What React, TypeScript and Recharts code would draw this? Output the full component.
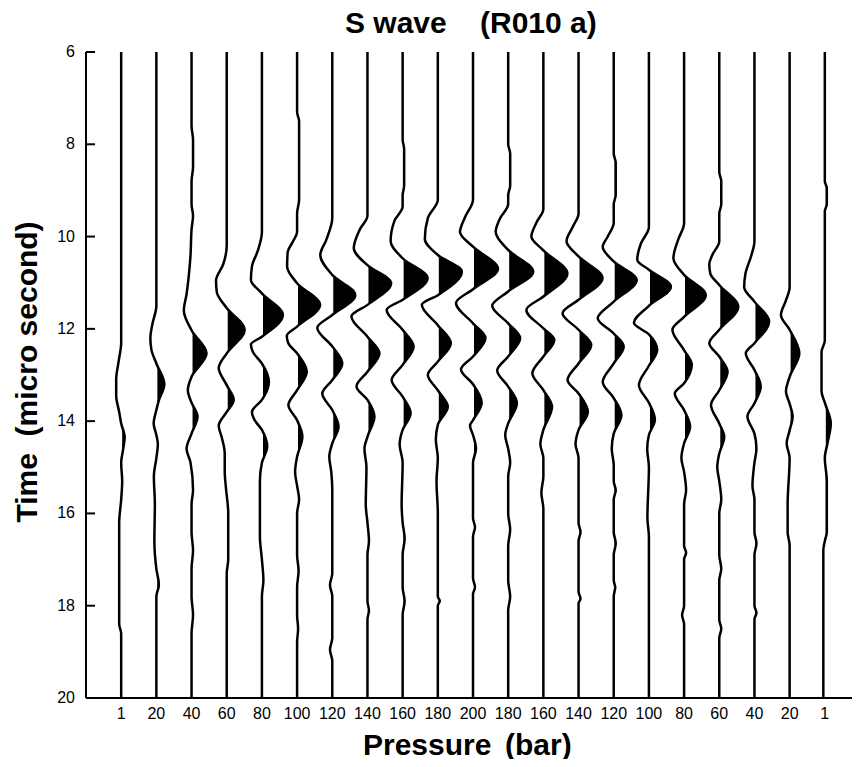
import React from 'react';
import { ComposedChart, Line, Area, XAxis, YAxis, ReferenceArea } from 'recharts';

type Pt = [number, number];

// pressure of each trace, loading then unloading
const pressures = [1, 20, 40, 60, 80, 100, 120, 140, 160, 180, 200, 180, 160, 140, 120, 100, 80, 60, 40, 20, 1];
const timeTicks = [6, 8, 10, 12, 14, 16, 18, 20];

// [time (micro second), amplitude]
const w00: Pt[] = [[6, 0], [12.3, 0], [12.7, -2.5], [13.1, -5], [13.45, -5], [13.8, -2], [14.05, 0], [14.35, 3.5], [14.6, 2], [14.9, 0], [15.3, 1], [15.7, 0], [16.2, -2], [18.4, -2], [18.6, 0], [20, 0]];
const w01: Pt[] = [[6, 0], [11.5, 0], [11.9, -4], [12.2, -6], [12.45, -5], [12.75, 0], [13.2, 8], [13.55, 2.5], [13.76, 0], [14.05, -2.7], [14.3, 0], [14.5, 1.5], [14.8, 0], [15.2, -2.5], [15.8, -1.5], [16.6, -2], [17.2, 0], [17.55, 2.5], [17.8, 0], [20, 0]];
const w02: Pt[] = [[6, 0], [7.6, 0], [7.9, 1.5], [8.5, 1.5], [8.8, 0], [9.3, 0], [9.55, 1.5], [9.85, 0], [10.4, -1], [10.9, -3], [11.25, -5], [11.6, -7.7], [12.03, 0], [12.53, 15], [13.04, 0], [13.33, -3.7], [13.6, 0], [13.9, 6], [14.27, 0], [14.6, -5], [14.9, -1], [15.5, 1.5], [15.8, 0], [16.4, 0], [16.8, 1.5], [17.2, 0], [17.8, 0], [18.2, 1.5], [18.6, 0], [20, 0]];
const w03: Pt[] = [[6, 0], [10.2, 0], [10.6, -3.5], [10.95, -10.7], [11.2, -10], [11.55, 0], [12.02, 18], [12.53, 0], [12.85, -8], [13.22, 0], [13.54, 7], [13.8, 0], [14.1, -8], [14.35, -5], [14.7, -2], [15.1, -2], [15.4, -1], [16.0, 1.5], [17.0, 1.5], [17.3, 0], [20, 0]];
const w04: Pt[] = [[6, 0], [9.9, 0], [10.3, -4], [10.65, -10], [10.94, -11], [11.23, 0], [11.7, 21], [12.17, 0], [12.34, -11], [12.5, -9], [12.75, 0], [13.15, 7], [13.54, 0], [13.8, -10], [13.95, -8], [14.19, 0], [14.55, 5.3], [14.9, 0], [15.3, -2], [16.5, -2], [17.0, 0], [17.45, 1.5], [17.8, 0], [20, 0]];
const w05: Pt[] = [[6, 0], [7.3, 0], [7.5, 2], [9.2, 2], [9.5, 0], [9.9, 0], [10.1, -4], [10.35, -9.5], [10.65, -10], [11.01, 0], [11.48, 23], [11.95, 0], [12.15, -10.3], [12.3, -9], [12.53, 0], [12.93, 9.7], [13.33, 0], [13.65, -8.7], [13.98, 0], [14.34, 5.3], [14.77, 0], [15.1, -2], [15.4, 0], [15.7, 2], [16.0, 0], [16.9, 0], [17.25, 1.5], [17.6, 0], [18.2, 0], [18.5, 1], [18.8, 0], [20, 0]];
const w06: Pt[] = [[6, 0], [9.6, 0], [10.07, -6], [10.4, -12], [10.83, 0], [11.27, 23], [11.7, 0], [11.98, -15], [12.38, 0], [12.75, 10], [13.11, 0], [13.4, -10], [13.76, 0], [14.12, 6.3], [14.48, 0], [14.77, -3], [15.1, -1], [15.5, 0], [17.3, 0], [17.55, -2.3], [17.8, 0], [18.7, 0], [18.95, -2.3], [19.2, 0], [20, 0]];
const w07: Pt[] = [[6, 0], [9.55, 0], [9.86, -8], [10.25, -13.7], [10.62, 0], [11.01, 23.7], [11.48, 0], [11.73, -16], [12.17, 0], [12.53, 12], [12.93, 0], [13.25, -11], [13.54, 0], [13.9, 7], [14.34, 0], [14.6, -3], [15.0, -1], [15.8, -1.7], [16.2, 0], [16.6, 1.5], [16.9, 0], [17.9, 0], [18.1, 1.5], [18.3, 0], [20, 0]];
const w08: Pt[] = [[6, 0], [7.9, 0], [8.1, 1.5], [8.9, 1.5], [9.1, 0], [9.35, 0], [9.65, -8], [10.1, -12], [10.47, 0], [10.9, 25], [11.37, 0], [11.59, -16], [12.02, 0], [12.38, 11], [12.78, 0], [13.11, -11], [13.47, 0], [13.83, 8], [14.19, 0], [14.5, -3], [14.9, 0], [15.8, -1], [16.2, 0], [16.55, 2], [16.9, 0], [17.6, 0], [17.9, 2], [18.2, 0], [20, 0]];
const w09: Pt[] = [[6, 0], [9.2, 0], [9.6, -10], [10.05, -13], [10.4, 0], [10.76, 24], [11.27, 0], [11.48, -16], [11.92, 0], [12.31, 13], [12.71, 0], [13.0, -10], [13.33, 0], [13.69, 10], [14.08, 0], [14.4, -2], [14.8, 0], [15.3, -1.3], [16.0, 0], [17.8, 0], [17.9, 2], [18.0, 0], [20, 0]];
const w10: Pt[] = [[6, 0], [9.2, 0], [9.58, -8], [9.9, -13], [10.22, 0], [10.7, 25], [11.14, 0], [11.44, -17], [11.88, 0], [12.2, 12.5], [12.6, 0], [12.88, -12], [13.2, 0], [13.6, 8.7], [13.98, 0], [14.1, -3], [14.3, 0], [14.6, 3], [14.9, 0], [16.1, 0], [16.3, 2], [16.5, 0], [17.4, 0], [17.6, 2], [17.75, 0], [20, 0]];
const w11: Pt[] = [[6, 0], [8.0, 0], [8.2, 2], [8.9, 2], [9.1, 0], [9.3, 0], [9.6, -8], [9.9, -12.5], [10.29, 0], [10.76, 25], [11.19, 0], [11.5, -16], [11.88, 0], [12.2, 12], [12.6, 0], [12.9, -11], [13.25, 0], [13.61, 8.7], [14.05, 0], [14.3, -3], [14.6, 0], [14.9, 2], [15.2, 0], [16.0, 0], [16.35, 2], [16.7, 0], [17.45, 0], [17.8, 2], [18.1, 0], [20, 0]];
const w12: Pt[] = [[6, 0], [9.4, 0], [9.7, -7], [10.0, -12], [10.3, 0], [10.8, 24], [11.3, 0], [11.59, -17], [11.99, 0], [12.24, 11], [12.6, 0], [12.96, -11], [13.33, 0], [13.69, 8.7], [14.19, 0], [14.5, -3], [14.8, 0], [15.2, 0], [15.55, -2], [15.9, 0], [20, 0]];
const w13: Pt[] = [[6, 0], [9.5, 0], [9.8, -6], [10.1, -12], [10.43, 0], [10.9, 24], [11.37, 0], [11.66, -16], [12.02, 0], [12.35, 12.7], [12.75, 0], [13.11, -11], [13.4, 0], [13.8, 9.3], [14.19, 0], [14.5, -3], [14.8, 0], [16.2, 0], [16.4, 2], [16.6, 0], [17.7, 0], [17.85, 2], [17.95, 0], [20, 0]];
const w14: Pt[] = [[6, 0], [8.2, 0], [8.4, 2], [9.1, 2], [9.3, 0], [9.7, 0], [10.0, -6], [10.22, -11], [10.54, 0], [10.94, 23], [11.41, 0], [11.77, -16], [12.1, 0], [12.38, 10], [12.75, 0], [13.15, -11], [13.5, 0], [13.87, 7.7], [14.27, 0], [14.6, -2], [14.95, 0], [15.3, 0], [15.5, 2], [15.7, 0], [16.4, 0], [16.65, 2], [16.9, 0], [17.45, 0], [17.6, 1.5], [17.8, 0], [20, 0]];
const w15: Pt[] = [[6, 0], [9.8, 0], [10.15, -8], [10.5, -11.7], [10.72, 0], [11.09, 22], [11.5, 0], [11.87, -15], [12.12, 0], [12.46, 8.3], [12.8, 0], [13.22, -10], [13.6, 0], [13.97, 6], [14.3, 0], [14.6, -1.7], [15.0, 0], [16.1, -1.5], [16.5, 0], [20, 0]];
const w16: Pt[] = [[6, 0], [9.71, 0], [10.07, -6], [10.47, -10.7], [10.83, 0], [11.27, 21.7], [11.74, 0], [12.02, -11.7], [12.46, 0], [12.78, 7.7], [13.18, 0], [13.4, -9.3], [13.76, 0], [14.12, 6], [14.48, 0], [14.8, -2.7], [15.1, 0], [15.5, 2], [15.8, 0], [16.7, 0], [16.85, 2], [17.0, 0], [18.0, 0], [18.2, -2], [18.4, 0], [20, 0]];
const w17: Pt[] = [[6, 0], [8.6, 0], [8.8, 2], [9.3, 2], [9.5, 0], [10.1, 0], [10.4, -7], [10.6, -10], [10.8, -9], [11.05, 0], [11.52, 19], [12.02, 0], [12.31, -10], [12.6, 0], [12.93, 8.3], [13.33, 0], [13.65, -8.3], [14.05, 0], [14.34, 5], [14.7, 0], [15.0, -2], [15.3, 0], [15.7, 2], [16.0, 0], [16.9, 0], [17.2, 2], [17.45, 0], [18.3, 0], [18.5, 2], [18.7, 0], [20, 0]];
const w18: Pt[] = [[6, 0], [10.1, 0], [10.4, -3], [10.8, -9], [11.1, -10.3], [11.41, 0], [11.84, 14.7], [12.31, 0], [12.53, -8.7], [12.89, 0], [13.25, 6.3], [13.61, 0], [13.9, -7], [14.27, 0], [14.6, 2], [14.9, 0], [15.4, -2], [15.7, 0], [16.4, 0], [16.65, 2], [16.9, 0], [18.0, 0], [18.15, 2], [18.3, 0], [20, 0]];
const w19: Pt[] = [[6, 0], [11.1, 0], [11.4, -4], [11.7, -8.7], [12.02, 0], [12.53, 9.7], [13.04, 0], [13.36, -3.7], [13.62, 0], [13.9, 3], [14.2, 0], [14.48, -3], [14.8, 0], [15.8, -2], [16.4, -2], [16.7, 0], [20, 0]];
const w20: Pt[] = [[6, 0], [8.8, 0], [8.95, 2], [9.3, 2], [9.45, 0], [12.25, 0], [12.5, -3.3], [13.35, -3.3], [13.6, 0], [14.05, 6], [14.45, 3], [14.8, 0], [15.3, 2], [16.4, 2], [16.6, 0], [16.8, -1.5], [20, -1.5]];

const traces = [w00, w01, w02, w03, w04, w05, w06, w07, w08, w09, w10, w11, w12, w13, w14, w15, w16, w17, w18, w19, w20];

// amplitude -> fraction of trace spacing
const GAIN = 1 / 35.2;

const traceData = traces.map((pts, i) => pts.map(([t, a]) => ({ t, x: i + a * GAIN })));
const traceIdx = pressures.map((_, i) => i);

const FONT = '"Liberation Sans", Arial, Helvetica, sans-serif';

const TimeTick = ({ x, y, payload }: any) => (
  <g>
    <line x1={x + 11} x2={x + 20} y1={y} y2={y} stroke="#000" strokeWidth={2} />
    <text x={x} y={y} dy={5} textAnchor="end" fontSize={16} fontFamily={FONT} fill="#000">
      {payload.value}
    </text>
  </g>
);

const PressureTick = ({ x, y, payload }: any) => (
  <text x={x} y={y} dy={21} textAnchor="middle" fontSize={16} fontFamily={FONT} fill="#000">
    {pressures[payload.value]}
  </text>
);

// clip region right of each trace's zero line, so only positive swings get filled
// (nudged 1px right so no hairline is left along the zero line)
const clipShape = (i: number) => (p: any) => (
  <clipPath id={'pos' + i}>
    <rect x={p.x + 1} y={p.y - 5} width={p.width + 5} height={p.height + 10} />
  </clipPath>
);

const axisLine = { stroke: '#000', strokeWidth: 2 };

export default function App() {
  return (
    <div style={{ position: 'relative', width: 852, height: 751 }}>
      <ComposedChart
        layout="vertical"
        width={852}
        height={751}
        margin={{ top: 44, right: 0, bottom: 31, left: 18 }}
      >
        <XAxis
          type="number"
          domain={[-1, 21]}
          ticks={traceIdx}
          interval={0}
          tick={<PressureTick />}
          tickLine={false}
          tickSize={0}
          tickMargin={0}
          axisLine={axisLine}
          height={30}
          allowDataOverflow
        />
        <XAxis
          xAxisId="top"
          orientation="top"
          type="number"
          domain={[-1, 21]}
          tick={false}
          tickLine={false}
          axisLine={axisLine}
          height={0}
          allowDataOverflow
        />
        <YAxis
          type="number"
          dataKey="t"
          domain={[6, 20]}
          ticks={timeTicks}
          interval={0}
          tick={<TimeTick />}
          tickLine={false}
          tickSize={0}
          tickMargin={11}
          axisLine={axisLine}
          width={60}
          allowDataOverflow
        />
        <YAxis
          yAxisId="right"
          orientation="right"
          mirror
          type="number"
          domain={[6, 20]}
          ticks={timeTicks}
          interval={0}
          tick={() => <g />}
          tickLine={{ stroke: '#000', strokeWidth: 2 }}
          tickSize={7}
          axisLine={false}
          width={0}
        />
        {traceIdx.map((i) => (
          <ReferenceArea
            key={'c' + i}
            x1={i}
            x2={21}
            y1={6}
            y2={20}
            ifOverflow="visible"
            shape={clipShape(i)}
          />
        ))}
        {traceData.map((d, i) => (
          <Area
            key={'a' + i}
            data={d}
            dataKey="x"
            baseValue={i}
            type="monotone"
            stroke="none"
            fill="#000"
            fillOpacity={1}
            clipPath={`url(#pos${i})`}
            isAnimationActive={false}
          />
        ))}
        {traceData.map((d, i) => (
          <Line
            key={'l' + i}
            data={d}
            dataKey="x"
            type="monotone"
            stroke="#000"
            strokeWidth={2.5}
            dot={false}
            activeDot={false}
            isAnimationActive={false}
          />
        ))}
      </ComposedChart>
      <svg
        width={852}
        height={751}
        style={{ position: 'absolute', left: 0, top: 0, overflow: 'visible', pointerEvents: 'none' }}
      >
        <text y={25} fontSize={30} fontWeight="bold" fontFamily={FONT} fill="#000">
          <tspan x={337}>S wave</tspan>
          <tspan x={472}>(R010 a)</tspan>
        </text>
        <text y={747} fontSize={30} fontWeight="bold" fontFamily={FONT} fill="#000">
          <tspan x={355}>Pressure</tspan>
          <tspan x={497}>(bar)</tspan>
        </text>
        <text
          transform="translate(29,364) rotate(-90)"
          textAnchor="middle"
          fontSize={30}
          fontWeight="bold"
          fontFamily={FONT}
          fill="#000"
          style={{ whiteSpace: 'pre' }}
        >
          Time  (micro second)
        </text>
      </svg>
    </div>
  );
}
